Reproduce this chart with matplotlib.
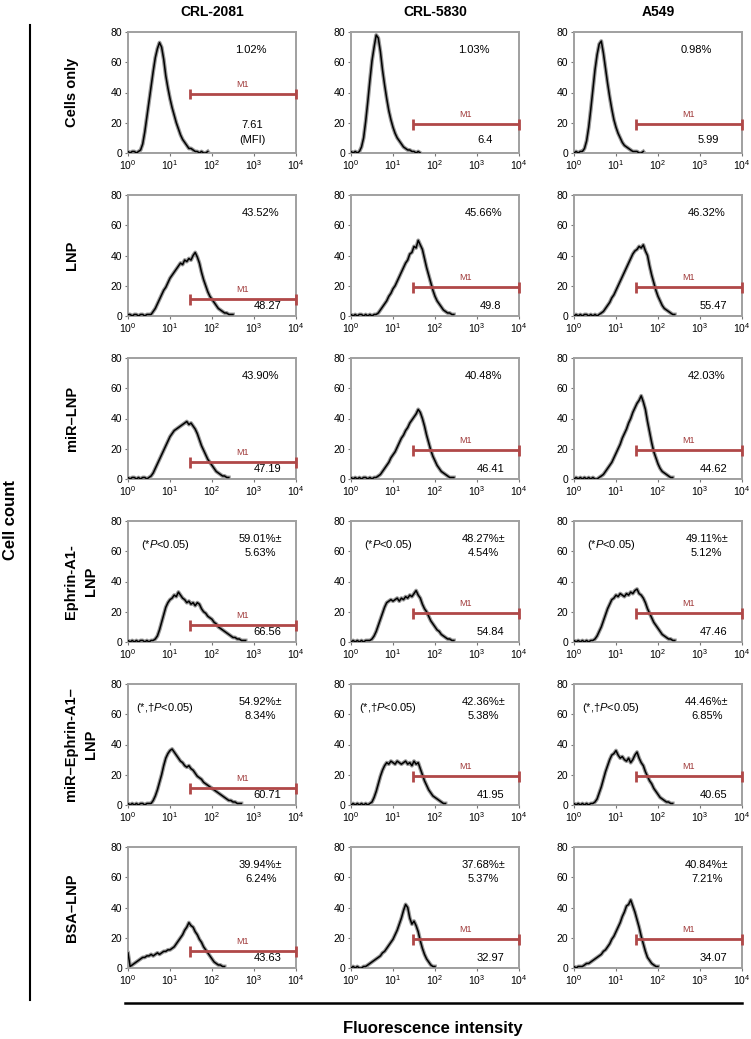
import numpy as np
import matplotlib
matplotlib.use("Agg")
import matplotlib.pyplot as plt
from matplotlib.ticker import LogLocator, NullLocator, LogFormatterMathtext

plt.rcParams['font.family'] = ['Liberation Sans', 'DejaVu Sans']
plt.rcParams['mathtext.fontset'] = 'custom'
plt.rcParams['mathtext.rm'] = 'Liberation Sans'
plt.rcParams['mathtext.it'] = 'Liberation Sans:italic'

# histogram bins (log10 of fluorescence), step 0.05
log_bins = np.arange(0, 3.001, 0.05)

columns = ["CRL-2081", "CRL-5830", "A549"]
rows = ["Cells only", "LNP", "miR\u2013LNP", "Ephrin-A1-\nLNP",
        "miR\u2013Ephrin-A1\u2013\nLNP", "BSA\u2013LNP"]

# cell counts per bin
cells_2081 = [1, 0, 1, 1, 0, 1, 2, 6, 14, 24, 34, 44, 54, 63, 69, 73, 70, 62, 51, 43,
              36, 30, 25, 20, 16, 12, 9, 7, 5, 3, 3, 2, 1, 1, 0, 1, 0, 0, 1]
cells_5830 = [1, 0, 1, 0, 1, 4, 10, 21, 34, 48, 61, 70, 78, 76, 67, 55, 45, 36, 28, 22,
              17, 13, 10, 8, 6, 4, 3, 2, 2, 1, 1, 0, 1, 0]
cells_a549 = [0, 1, 0, 1, 1, 3, 8, 17, 29, 42, 55, 65, 72, 74, 66, 56, 46, 37, 29, 22,
              17, 13, 10, 7, 5, 4, 3, 2, 1, 1, 1, 0, 0, 1]

lnp_2081 = [1, 1, 0, 1, 1, 0, 1, 1, 0, 1, 1, 1, 3, 5, 8, 11, 14, 17, 19, 22,
            25, 27, 29, 31, 33, 35, 34, 37, 36, 38, 37, 40, 42, 39, 35, 29, 24, 20, 16, 13,
            11, 9, 7, 5, 4, 3, 2, 2, 1, 1, 1]
lnp_5830 = [1, 0, 1, 0, 1, 1, 0, 1, 0, 1, 0, 1, 1, 2, 4, 6, 8, 10, 13, 15,
            18, 20, 23, 26, 29, 32, 35, 37, 41, 42, 46, 45, 50, 47, 44, 38, 32, 27, 22, 17,
            13, 10, 8, 6, 4, 3, 2, 2, 1, 1]
lnp_a549 = [0, 1, 0, 1, 0, 1, 1, 0, 1, 0, 1, 0, 1, 2, 3, 5, 7, 9, 12, 14,
            17, 20, 23, 26, 29, 32, 35, 38, 41, 43, 44, 46, 45, 47, 43, 40, 33, 27, 22, 17,
            13, 10, 7, 5, 4, 3, 2, 1, 1]

mir_2081 = [1, 0, 1, 1, 0, 1, 0, 1, 1, 0, 1, 2, 4, 7, 10, 13, 16, 19, 22, 25,
            28, 30, 32, 33, 34, 35, 36, 37, 38, 36, 37, 35, 33, 30, 26, 22, 19, 16, 13, 11,
            9, 7, 5, 4, 3, 2, 2, 1, 1]
mir_5830 = [1, 0, 1, 0, 1, 0, 1, 1, 0, 1, 0, 1, 1, 2, 3, 5, 7, 9, 11, 14,
            16, 18, 21, 24, 27, 29, 32, 34, 37, 39, 41, 43, 46, 44, 40, 35, 29, 24, 19, 15,
            12, 9, 7, 5, 4, 3, 2, 1, 1, 1]
mir_a549 = [0, 1, 0, 1, 0, 1, 0, 1, 0, 1, 0, 0, 1, 2, 3, 5, 7, 9, 11, 14,
            17, 20, 23, 27, 30, 33, 37, 40, 44, 47, 50, 52, 55, 51, 46, 38, 31, 24, 18, 14,
            10, 7, 5, 4, 3, 2, 1, 1]

eph_2081 = [1, 0, 1, 0, 1, 0, 1, 1, 0, 1, 0, 1, 1, 2, 4, 8, 13, 18, 23, 26,
            28, 29, 31, 30, 33, 31, 29, 28, 26, 27, 25, 26, 24, 26, 25, 22, 20, 19, 17, 16,
            15, 13, 12, 10, 9, 8, 7, 6, 5, 4, 3, 3, 2, 2, 1, 1, 1]
eph_5830 = [0, 1, 0, 1, 0, 1, 0, 1, 1, 1, 2, 4, 7, 11, 15, 19, 23, 26, 27, 28,
            27, 28, 29, 27, 29, 28, 30, 29, 31, 30, 32, 34, 31, 29, 25, 22, 20, 17, 14, 12,
            10, 8, 7, 5, 4, 3, 2, 2, 1, 1]
eph_a549 = [1, 0, 1, 0, 1, 0, 1, 0, 1, 1, 2, 4, 7, 10, 14, 18, 22, 25, 28, 29,
            31, 30, 32, 31, 30, 32, 31, 33, 32, 34, 35, 32, 31, 29, 26, 22, 19, 16, 13, 11,
            9, 7, 5, 4, 3, 2, 2, 1, 1]

mireph_2081 = [1, 0, 1, 0, 1, 0, 1, 1, 0, 1, 1, 1, 3, 6, 10, 15, 20, 26, 31, 34,
               36, 37, 35, 33, 31, 29, 28, 26, 25, 26, 24, 23, 21, 19, 18, 17, 15, 14, 13, 12,
               11, 10, 9, 8, 7, 6, 5, 4, 3, 3, 2, 2, 1, 1, 1]
mireph_5830 = [0, 1, 0, 1, 0, 1, 0, 1, 0, 1, 2, 5, 9, 14, 19, 23, 26, 28, 27, 29,
               28, 27, 29, 28, 27, 28, 29, 27, 28, 26, 29, 27, 28, 24, 20, 16, 13, 10, 8, 6,
               5, 4, 3, 2, 1, 1]
mireph_a549 = [1, 0, 1, 0, 1, 0, 1, 0, 1, 1, 2, 4, 8, 12, 17, 22, 26, 30, 33, 34,
               36, 33, 31, 32, 30, 29, 31, 28, 30, 33, 35, 31, 28, 26, 22, 19, 16, 14, 11, 9,
               7, 5, 4, 3, 2, 2, 1, 1]

bsa_2081 = [10, 1, 2, 3, 4, 5, 6, 7, 7, 8, 8, 9, 8, 9, 10, 9, 10, 11, 11, 12,
            12, 13, 14, 16, 18, 20, 22, 25, 27, 30, 28, 27, 24, 22, 19, 17, 14, 12, 10, 8,
            6, 4, 3, 2, 2, 1, 1]
bsa_5830 = [0, 1, 0, 1, 0, 0, 1, 1, 2, 3, 4, 5, 6, 7, 8, 10, 11, 13, 15, 17,
            19, 22, 25, 29, 33, 38, 42, 40, 33, 29, 31, 28, 24, 18, 13, 9, 6, 4, 2, 1, 1]
bsa_a549 = [1, 0, 1, 1, 1, 2, 3, 3, 4, 5, 6, 7, 8, 9, 11, 12, 14, 16, 19, 21,
            24, 27, 30, 34, 37, 41, 42, 45, 41, 37, 32, 27, 21, 16, 11, 7, 5, 3, 2, 1, 1]

histograms = [
    [cells_2081, cells_5830, cells_a549],
    [lnp_2081, lnp_5830, lnp_a549],
    [mir_2081, mir_5830, mir_a549],
    [eph_2081, eph_5830, eph_a549],
    [mireph_2081, mireph_5830, mireph_a549],
    [bsa_2081, bsa_5830, bsa_a549],
]

gate_start = 30
gate_end = 10000
gate_level = [[39, 19, 19], [11, 19, 19], [11, 19, 19],
              [11, 19, 19], [11, 19, 19], [11, 19, 19]]

percents = [["1.02%", "1.03%", "0.98%"],
            ["43.52%", "45.66%", "46.32%"],
            ["43.90%", "40.48%", "42.03%"],
            ["59.01%\u00b1\n5.63%", "48.27%\u00b1\n4.54%", "49.11%\u00b1\n5.12%"],
            ["54.92%\u00b1\n8.34%", "42.36%\u00b1\n5.38%", "44.46%\u00b1\n6.85%"],
            ["39.94%\u00b1\n6.24%", "37.68%\u00b1\n5.37%", "40.84%\u00b1\n7.21%"]]
mfi = [["7.61\n(MFI)", "6.4", "5.99"],
       ["48.27", "49.8", "55.47"],
       ["47.19", "46.41", "44.62"],
       ["66.56", "54.84", "47.46"],
       ["60.71", "41.95", "40.65"],
       ["43.63", "32.97", "34.07"]]
pvals = {3: "(*$P$<0.05)", 4: "(*,\u2020$P$<0.05)"}

W, H = 751, 1039
fig = plt.figure(figsize=(W / 100, H / 100), dpi=100)

col_left = [128, 351, 574]
row_top = [32, 195, 358, 521, 684, 847]
ax_w, ax_h = 168, 121
gate_col = '#b04848'
x = 10 ** log_bins

for r in range(6):
    for c in range(3):
        ax = fig.add_axes([col_left[c] / W, 1 - (row_top[r] + ax_h) / H, ax_w / W, ax_h / H])
        counts = histograms[r][c]
        xs = x[:len(counts)]
        ax.axhline(0, color='#9a9a9a', lw=1.2, zorder=1)
        # grey halo under the black trace gives the fuzzy cytometer look
        ax.plot(xs, counts, color='#999999', lw=2.8, zorder=2)
        ax.plot(xs, counts, color='black', lw=1.1, zorder=3)

        g = gate_level[r][c]
        ax.hlines(g, gate_start, gate_end, color=gate_col, lw=2.0, zorder=4, clip_on=False)
        ax.vlines([gate_start, gate_end], g - 3.5, g + 3.5, color=gate_col, lw=2.0,
                  zorder=4, clip_on=False)
        ax.text(10 ** 2.72, g + 6.5, "M1", color='#a03a3a', fontsize=6.5,
                ha='center', va='center')

        ax.set_xscale('log')
        ax.set_xlim(1, 10000)
        ax.set_ylim(0, 80)
        ax.set_yticks([0, 20, 40, 60, 80])
        ax.xaxis.set_major_locator(LogLocator(base=10, numticks=5))
        ax.xaxis.set_major_formatter(LogFormatterMathtext())
        ax.xaxis.set_minor_locator(NullLocator())
        ax.tick_params(labelsize=7.5, length=2, width=0.8, color='#777777', pad=2)
        for s in ax.spines.values():
            s.set_color('#a0a0a0')
            s.set_linewidth(1.4)

        # percentage text
        lines = percents[r][c].split("\n")
        px = 0.73 if r == 0 else 0.79
        ax.text(px, 0.855, lines[0], transform=ax.transAxes, fontsize=8,
                ha='center', va='center')
        if len(lines) > 1:
            ax.text(px, 0.735, lines[1], transform=ax.transAxes, fontsize=8,
                    ha='center', va='center')

        # MFI text
        m = mfi[r][c].split("\n")
        if r == 0 and c == 0:
            ax.text(0.74, 0.23, m[0], transform=ax.transAxes, fontsize=8, ha='center', va='center')
            ax.text(0.74, 0.11, m[1], transform=ax.transAxes, fontsize=8, ha='center', va='center')
        elif r == 0:
            ax.text(0.80, 0.11, m[0], transform=ax.transAxes, fontsize=8, ha='center', va='center')
        else:
            ax.text(0.83, 0.08, m[0], transform=ax.transAxes, fontsize=8, ha='center', va='center')

        if r in pvals:
            ax.text(0.22, 0.80, pvals[r], transform=ax.transAxes, fontsize=8,
                    ha='center', va='center')

    # row label
    yc = 1 - (row_top[r] + ax_h / 2) / H
    label_x = 81 if "\n" in rows[r] else 72
    fig.text(label_x / W, yc, rows[r], rotation=90, ha='center', va='center',
             fontsize=10.5, fontweight='bold', multialignment='center', linespacing=1.5)

for c in range(3):
    fig.text((col_left[c] + ax_w / 2) / W, 1 - 12 / H, columns[c], ha='center', va='center',
             fontsize=10, fontweight='bold')

# outer framing lines and axis titles
fig.add_artist(plt.Line2D([30 / W, 30 / W], [1 - 25 / H, 1 - 1000 / H], color='black', lw=1.5))
fig.text(11 / W, 1 - 520 / H, "Cell count", rotation=90, ha='center', va='center',
         fontsize=12, fontweight='bold')
fig.add_artist(plt.Line2D([125 / W, 742 / W], [1 - 1003 / H, 1 - 1003 / H], color='black', lw=1.8))
fig.text(433 / W, 1 - 1029 / H, "Fluorescence intensity", ha='center', va='center',
         fontsize=12, fontweight='bold')

fig.savefig("out.png", dpi=100)
